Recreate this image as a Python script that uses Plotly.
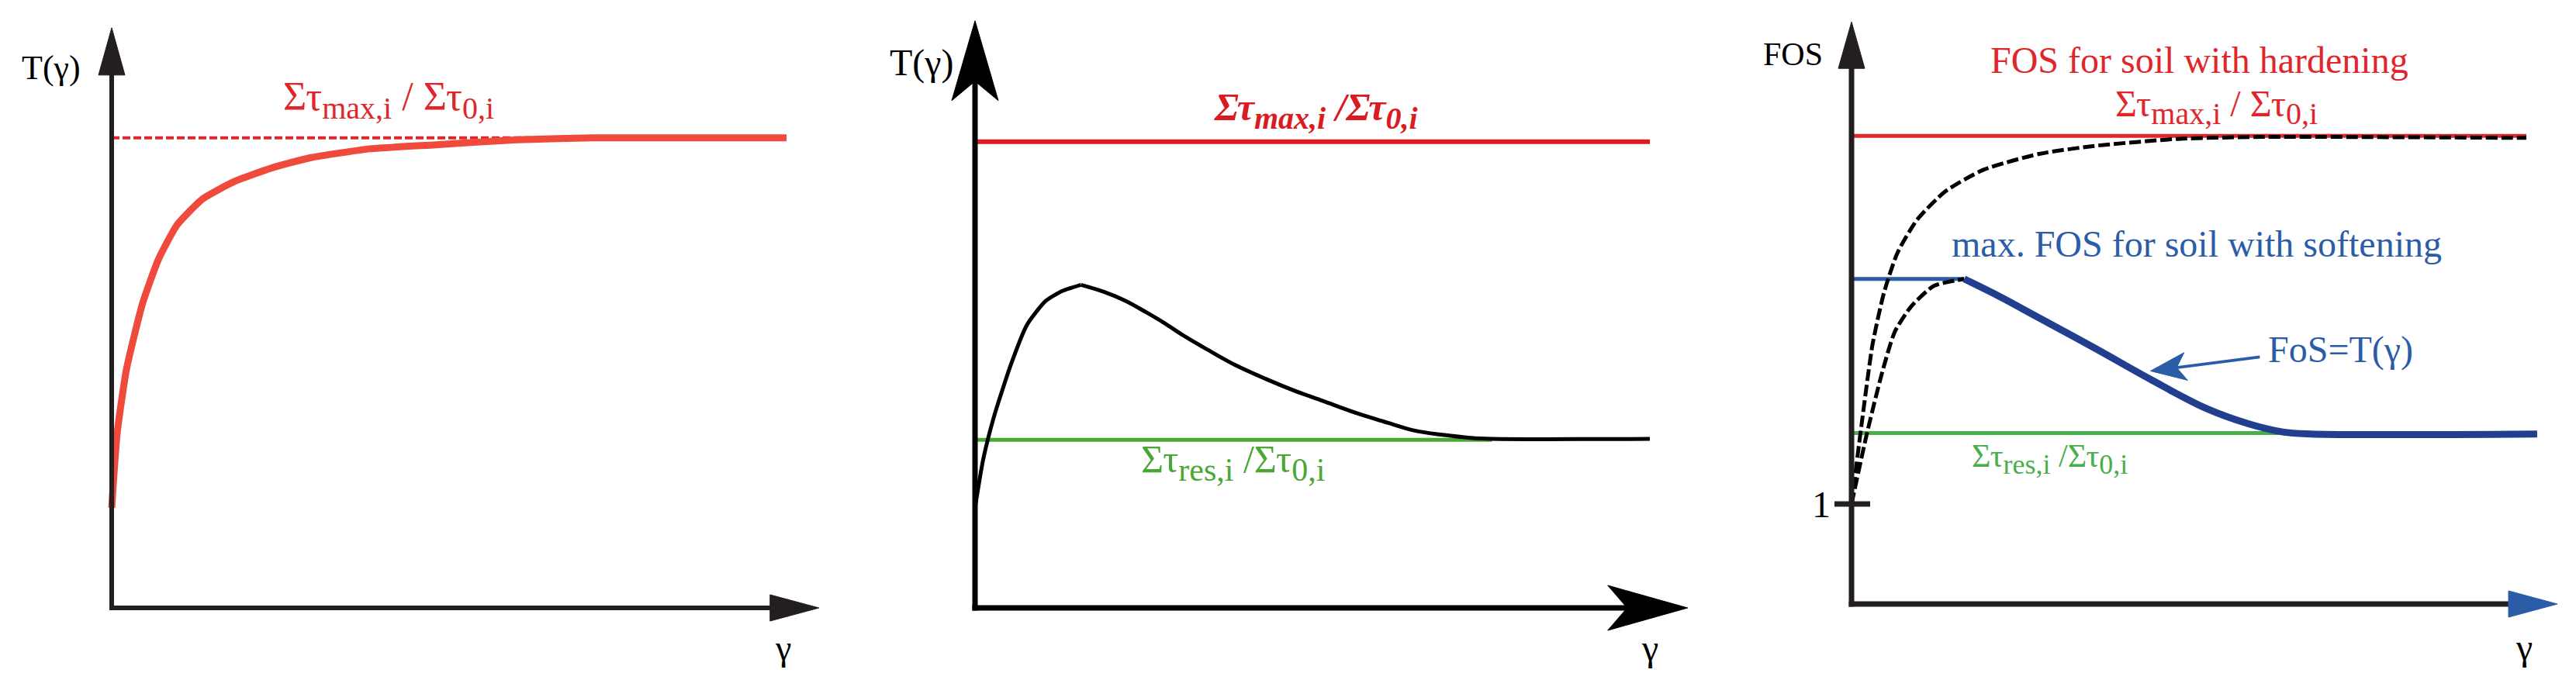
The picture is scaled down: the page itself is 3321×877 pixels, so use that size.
import math
import plotly.graph_objects as go

FONT = "Liberation Serif"
W, H = 3321, 877
OFF = 8        # page body margin that the browser adds round the plot div
PX_X = 87.0    # pixels per gamma unit
PX_Y = 129.0   # pixels per T unit

# ---------------- data ----------------
# Panel 1: hardening
p1_gamma = [0, 0.08, 0.22, 0.46, 0.69, 0.97, 1.35, 1.81, 2.38, 2.94, 3.83, 4.80, 6.01, 7.2, 10]
p1_T = [1.0, 1.74, 2.39, 3.05, 3.48, 3.83, 4.09, 4.26, 4.40, 4.50, 4.59, 4.63, 4.68, 4.70, 4.70]
p1_max_gamma = [0, 6.2]
p1_max_T = [4.70, 4.70]

# Panel 2: softening
p2_rise_gamma = [0, 0.12, 0.28, 0.53, 0.77, 1.05, 1.30, 1.57]
p2_rise_T = [1.0, 1.48, 1.91, 2.43, 2.83, 3.07, 3.17, 3.23]
p2_fall_gamma = [1.57, 1.91, 2.23, 2.55, 2.80, 3.12, 3.45, 3.85, 4.34, 4.74, 5.15, 5.64, 6.12,
                 6.53, 6.93, 7.34, 7.66, 10]
p2_fall_T = [3.23, 3.16, 3.07, 2.95, 2.85, 2.71, 2.58, 2.43, 2.28, 2.17, 2.07, 1.95, 1.85,
             1.77, 1.73, 1.70, 1.69, 1.69]
p2_max_gamma = [0, 10.0]
p2_max_T = [4.66, 4.66]
p2_res_gamma = [0, 7.66]
p2_res_T = [1.68, 1.68]

# Panel 3: FOS
p3_max_gamma = [0, 10.0]
p3_max_T = [4.68, 4.68]
p3_hard_gamma = [0, 0.15, 0.31, 0.48, 0.68, 0.97, 1.38, 1.95, 2.78, 3.60, 4.83, 6.06, 10]
p3_hard_T = [1.0, 1.80, 2.59, 3.11, 3.51, 3.84, 4.12, 4.34, 4.50, 4.58, 4.65, 4.67, 4.66]
p3_soft_rise_gamma = [0, 0.23, 0.44, 0.64, 0.89, 1.22, 1.67]
p3_soft_rise_T = [1.0, 1.71, 2.28, 2.72, 2.98, 3.18, 3.25]
p3_softmax_gamma = [0, 1.67]
p3_softmax_T = [3.25, 3.25]
p3_fos_gamma = [1.67, 2.12, 2.78, 3.60, 4.42, 5.24, 5.89, 6.39, 6.80, 10.16]
p3_fos_T = [3.25, 3.10, 2.86, 2.56, 2.25, 1.96, 1.80, 1.72, 1.70, 1.70]
p3_res_gamma = [0, 6.55]
p3_res_T = [1.71, 1.71]
p3_tick_T = [1.0]
p3_tick_label = ["1"]

RED1 = "#EF4A3C"
RED = "#E1262B"
RED2 = "#DA1B22"
GREEN = "#4BA734"
GREEN3 = "#49AD4C"
BLUE = "#2B5CA8"
NAVY = "#213F8E"
AX = "#231F20"

fig = go.Figure()

# panel geometry in page pixels (left edge, right edge, origin x, origin y)
panels = {
    1: dict(x0=0, x1=1100, ox=144, oy=784),
    2: dict(x0=1100, x1=2200, ox=1257, oy=784),
    3: dict(x0=2200, x1=3321, ox=2387, oy=779),
}
for k, p in panels.items():
    sx = "" if k == 1 else str(k)
    fx0 = max(p["x0"] - OFF, 0)
    fx1 = min(p["x1"] - OFF, W)
    fox = p["ox"] - OFF
    foy = p["oy"] - OFF
    xmin = -(fox - fx0) / PX_X
    xmax = xmin + (fx1 - fx0) / PX_X
    ymin = -(H - foy) / PX_Y
    ymax = foy / PX_Y
    fig.layout["xaxis" + sx] = dict(domain=[fx0 / W, fx1 / W], range=[xmin, xmax],
                                    visible=False, anchor="y" + sx)
    fig.layout["yaxis" + sx] = dict(domain=[0, 1], range=[ymin, ymax], visible=False,
                                    anchor="x" + sx)


def line(k, x, y, color, width, dash=None, shape="linear", smooth=None):
    sx = "" if k == 1 else str(k)
    ln = dict(color=color, width=width, shape=shape)
    if dash:
        ln["dash"] = dash
    if smooth is not None:
        ln["smoothing"] = smooth
    fig.add_trace(go.Scatter(x=x, y=y, mode="lines", line=ln, xaxis="x" + sx, yaxis="y" + sx,
                             showlegend=False, hoverinfo="skip"))


def arrow_axis(k, tip, direction, length, half, notch, color, width, linecolor):
    """Axis line from origin with arrowhead; sizes in pixels."""
    sx = "" if k == 1 else str(k)
    xr, yr = "x" + sx, "y" + sx
    if direction == "up":
        base = tip - length / PX_Y
        nt = tip - (length - notch) / PX_Y
        path = f"M 0 {tip} L {-half / PX_X} {base} L 0 {nt} L {half / PX_X} {base} Z"
        fig.add_shape(type="line", x0=0, y0=-width / 2 / PX_Y, x1=0, y1=nt + 2 / PX_Y, xref=xr, yref=yr,
                      line=dict(color=linecolor, width=width))
    else:
        base = tip - length / PX_X
        nt = tip - (length - notch) / PX_X
        path = f"M {tip} 0 L {base} {-half / PX_Y} L {nt} 0 L {base} {half / PX_Y} Z"
        fig.add_shape(type="line", x0=-width / 2 / PX_X, y0=0, x1=nt + 2 / PX_X, y1=0, xref=xr, yref=yr,
                      line=dict(color=linecolor, width=width))
    fig.add_shape(type="path", path=path, xref=xr, yref=yr, fillcolor=color,
                  line=dict(color=color, width=1))


def text(k, x, y, s, size, color="black", xanchor="center"):
    sx = "" if k == 1 else str(k)
    fig.add_annotation(x=x, y=y, xref="x" + sx, yref="y" + sx, text=s, showarrow=False,
                       xanchor=xanchor, yanchor="middle",
                       font=dict(family=FONT, size=size, color=color))


def sub(s, size):
    return f"<sub><span style='font-size:{size}px'>{s}</span></sub>"


# ---------- Panel 1 ----------
arrow_axis(1, 5.80, "up", 61, 17, 0, AX, 6, AX)
arrow_axis(1, 10.48, "right", 63, 17, 0, AX, 6, AX)
line(1, p1_max_gamma, p1_max_T, RED, 4, dash="10px,4px")
line(1, p1_gamma, p1_T, RED1, 9, shape="spline", smooth=0.5)
text(1, -0.90, 5.40, "T(γ)", 44)
text(1, 4.10, 5.08, "Στ" + sub("max,i", 40) + " / Στ" + sub("0,i", 40), 52, RED)
text(1, 9.95, -0.40, "γ", 46)

# ---------- Panel 2 ----------
arrow_axis(2, 5.87, "up", 103, 30, 25, "black", 7, "black")
arrow_axis(2, 10.56, "right", 103, 29, 25, "black", 7, "black")
line(2, p2_max_gamma, p2_max_T, RED2, 6)
line(2, p2_res_gamma, p2_res_T, GREEN, 5)
line(2, p2_rise_gamma, p2_rise_T, "black", 5, shape="spline", smooth=0.6)
line(2, p2_fall_gamma, p2_fall_T, "black", 5, shape="spline", smooth=1.0)
text(2, -0.79, 5.45, "T(γ)", 48)
text(2, 5.05, 4.97, "<b><i>Στ" + sub("max,i", 40) + " /Στ" + sub("0,i", 40) + "</i></b>", 50, RED2)
text(2, 3.82, 1.45, "Στ" + sub("res,i", 42) + " /Στ" + sub("0,i", 42), 50, GREEN)
text(2, 10.0, -0.40, "γ", 48)

# ---------- Panel 3 ----------
arrow_axis(3, 5.82, "up", 60, 17, 0, AX, 7, AX)
arrow_axis(3, 10.46, "right", 63, 17, 0, BLUE, 7, AX)
line(3, p3_max_gamma, p3_max_T, RED, 5)
line(3, p3_res_gamma, p3_res_T, GREEN3, 5)
line(3, p3_softmax_gamma, p3_softmax_T, BLUE, 5)
line(3, p3_hard_gamma, p3_hard_T, "black", 5, dash="15px,5px", shape="spline", smooth=0.6)
line(3, p3_soft_rise_gamma, p3_soft_rise_T, "black", 5, dash="15px,5px", shape="spline", smooth=0.6)
line(3, p3_fos_gamma, p3_fos_T, NAVY, 9, shape="spline", smooth=1.0)
for t, lab in zip(p3_tick_T, p3_tick_label):
    fig.add_shape(type="line", x0=-22 / PX_X, x1=24 / PX_X, y0=t, y1=t, xref="x3", yref="y3",
                  line=dict(color=AX, width=7))
    text(3, -0.45, t, lab, 48)
text(3, -0.87, 5.50, "FOS", 42)
text(3, 5.16, 5.44, "FOS for soil with hardening", 48, RED)
text(3, 5.41, 4.97, "Στ" + sub("max,i", 40) + " / Στ" + sub("0,i", 40), 48, RED)
text(3, 5.11, 3.60, "max. FOS for soil with softening", 48, BLUE)
text(3, 2.94, 1.45, "Στ" + sub("res,i", 36) + " /Στ" + sub("0,i", 36), 42, GREEN3)
text(3, 6.15, 2.54, "FoS=T(γ)", 48, BLUE, xanchor="left")
text(3, 9.97, -0.43, "γ", 48)

# FoS pointer arrow (tail -> tip), head drawn in pixel space
tail = (6.05, 2.47)
tip = (4.43, 2.33)
dxp = (tip[0] - tail[0]) * PX_X
dyp = (tip[1] - tail[1]) * PX_Y
L = math.hypot(dxp, dyp)
ux, uy = dxp / L, dyp / L
hl, hw, hn = 46, 18, 12
bx, by = -ux * hl, -uy * hl
nx, ny = -ux * (hl - hn), -uy * (hl - hn)
px_, py_ = -uy * hw, ux * hw
pts = [(0, 0), (bx + px_, by + py_), (nx, ny), (bx - px_, by - py_)]
path = "M " + " L ".join(f"{tip[0] + a / PX_X} {tip[1] + b / PX_Y}" for a, b in pts) + " Z"
fig.add_shape(type="line", x0=tail[0], y0=tail[1], x1=tip[0] + nx / PX_X, y1=tip[1] + ny / PX_Y,
              xref="x3", yref="y3", line=dict(color=BLUE, width=4))
fig.add_shape(type="path", path=path, xref="x3", yref="y3", fillcolor=BLUE,
              line=dict(color=BLUE, width=1))

fig.update_layout(width=W, height=H, margin=dict(l=0, r=0, t=0, b=0),
                  paper_bgcolor="white", plot_bgcolor="white")
fig.write_html("out.html")
